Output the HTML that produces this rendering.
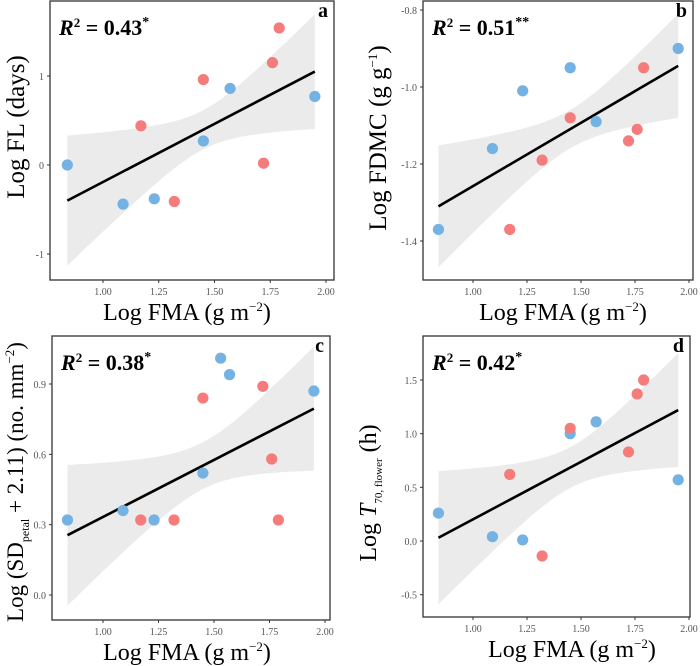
<!DOCTYPE html>
<html><head><meta charset="utf-8">
<style>
html,body{margin:0;padding:0;background:#fff;}
svg{display:block;font-family:"Liberation Serif",serif;}
</style></head>
<body>
<svg id="fig" width="700" height="666" viewBox="0 0 700 666" xmlns="http://www.w3.org/2000/svg"></svg>
<script>
// shared x data
const xTicks = [1.00, 1.25, 1.50, 1.75, 2.00];
const xTickLabels = ["1.00", "1.25", "1.50", "1.75", "2.00"];
const blueX = [0.84, 1.09, 1.23, 1.45, 1.57, 1.95];
const redX = [1.17, 1.32, 1.45, 1.72, 1.76, 1.79];
const blueXc = [0.84, 1.09, 1.23, 1.45, 1.53, 1.57, 1.95];
// panel a
const aBlueY = [0.00, -0.44, -0.38, 0.27, 0.86, 0.77];
const aRedY = [0.44, -0.41, 0.96, 0.02, 1.15, 1.54];
const aFit = [-0.40, 1.05];
const aCI = [0.73, 0.22, 0.645];
const aYTicks = [-1, 0, 1];
const aYTickLabels = ["-1", "0", "1"];
// panel b
const bBlueY = [-1.37, -1.16, -1.01, -0.95, -1.09, -0.90];
const bRedY = [-1.37, -1.19, -1.08, -1.14, -1.11, -0.95];
const bFit = [-1.31, -0.945];
const bCI = [0.158, 0.05, 0.135];
const bYTicks = [-1.4, -1.2, -1.0, -0.8];
const bYTickLabels = ["-1.4", "-1.2", "-1.0", "-0.8"];
// panel c
const cBlueY = [0.32, 0.36, 0.32, 0.52, 1.01, 0.94, 0.87];
const cRedY = [0.32, 0.32, 0.84, 0.89, 0.58, 0.32];
const cFit = [0.255, 0.795];
const cCI = [0.30, 0.10, 0.265];
const cYTicks = [0.0, 0.3, 0.6, 0.9];
const cYTickLabels = ["0.0", "0.3", "0.6", "0.9"];
// panel d
const dBlueY = [0.26, 0.04, 0.01, 1.00, 1.11, 0.57];
const dRedY = [0.62, -0.14, 1.05, 0.83, 1.37, 1.50];
const dFit = [0.03, 1.22];
const dCI = [0.62, 0.19, 0.53];
const dYTicks = [-0.5, 0.0, 0.5, 1.0, 1.5];
const dYTickLabels = ["-0.5", "0.0", "0.5", "1.0", "1.5"];

const NS = "http://www.w3.org/2000/svg";
const svg = document.getElementById("fig");
function mk(tag, attrs, parent) {
  const e = document.createElementNS(NS, tag);
  for (const k in attrs) e.setAttribute(k, attrs[k]);
  (parent || svg).appendChild(e);
  return e;
}
const XMIN = 0.84, XMAX = 1.95, XMID = 1.45;

function panel(p) {
  const g = mk("g", {});
  
  
  const sx = v => p.x1 + (v - 1) * (p.x2 - p.x1);
  const sy = v => p.y0 + (v - p.v0) * (p.y1 - p.y0) / (p.v1 - p.v0);
  const fit = v => p.fit[0] + (v - XMIN) * (p.fit[1] - p.fit[0]) / (XMAX - XMIN);
  const hw = v => {
    const h0 = p.ci[1];
    const kL = (p.ci[0] ** 2 - h0 ** 2) / ((XMIN - XMID) ** 2);
    const kR = (p.ci[2] ** 2 - h0 ** 2) / ((XMAX - XMID) ** 2);
    const k = v < XMID ? kL : kR;
    return Math.sqrt(h0 * h0 + k * (v - XMID) ** 2);
  };
  let up = [], lo = [];
  for (let i = 0; i <= 60; i++) {
    const v = XMIN + (XMAX - XMIN) * i / 60;
    up.push(sx(v).toFixed(1) + "," + sy(fit(v) + hw(v)).toFixed(1));
    lo.unshift(sx(v).toFixed(1) + "," + sy(fit(v) - hw(v)).toFixed(1));
  }
  const band = mk("polygon", {points: up.concat(lo).join(" "), fill: "#ebebeb"}, g);
  
  
  const ln = mk("line", {x1: sx(XMIN), y1: sy(fit(XMIN)), x2: sx(XMAX), y2: sy(fit(XMAX)), stroke: "#000", "stroke-width": 2.6}, g);
  
  
  p.bx.forEach((v, i) => {
    const c = mk("circle", {cx: sx(v), cy: sy(p.by[i]), r: 5.6, fill: "#73B2E3"}, g);
    
    
  });
  redX.forEach((v, i) => {
    const c = mk("circle", {cx: sx(v), cy: sy(p.ry[i]), r: 5.6, fill: "#F57C7A"}, g);
    
    
  });
  const fr = mk("rect", {x: p.L, y: p.T, width: p.R - p.L, height: p.B - p.T, fill: "none", stroke: "#333", "stroke-width": 1.3}, g);
  
  
  xTicks.forEach((v, i) => {
    mk("line", {x1: sx(v), x2: sx(v), y1: p.B, y2: p.B + 3, stroke: "#333"}, g);
    const t = mk("text", {x: sx(v), y: p.B + 15, "text-anchor": "middle", "font-size": 10, fill: "#555"}, g);
    t.textContent = xTickLabels[i];
    
    
  });
  p.yt.forEach((v, i) => {
    mk("line", {x1: p.L - 3, x2: p.L, y1: sy(v), y2: sy(v), stroke: "#333"}, g);
    const t = mk("text", {x: p.L - 6, y: sy(v) + 4, "text-anchor": "end", "font-size": 10, fill: "#555"}, g);
    t.textContent = p.yl[i];
    
    
  });
  const xt = mk("text", {x: p.xtx, y: p.B + 40, "text-anchor": "middle", "font-size": 24}, g);
  xt.innerHTML = 'Log FMA (g m<tspan dy="-9" font-size="13">−2</tspan><tspan dy="9">)</tspan>';
  
  
  const yt = mk("text", {transform: `translate(${p.ytx},${p.yty}) rotate(-90)`, "text-anchor": "middle", "font-size": p.yfs || 25}, g);
  yt.innerHTML = p.ytitle;
  
  
  const r = mk("text", {x: p.L + 9, y: p.T + 34, "font-size": 22, "font-weight": "bold"}, g);
  r.innerHTML = '<tspan font-style="italic">R</tspan><tspan dy="-8" font-size="13">2</tspan><tspan dy="8"> = ' + p.r2 + '</tspan><tspan dy="-9" font-size="14">' + p.star + '</tspan>';
  
  
  const lab = mk("text", {x: p.R - 6, y: p.T + 16, "text-anchor": "end", "font-size": 20, "font-weight": "bold"}, g);
  lab.textContent = p.id;
  
  
}

panel({id: "a", L: 50, R: 334, T: 1, B: 280, x1: 103, x2: 326, v0: 0, y0: 165, v1: 1, y1: 76,
  bx: blueX, by: aBlueY, ry: aRedY, fit: aFit, ci: aCI, yt: aYTicks, yl: aYTickLabels,
  xtx: 187, ytx: 24, yty: 127, r2: "0.43", star: "*", ytitle: "Log FL (days)"});
panel({id: "b", L: 423, R: 693, T: 1, B: 280, x1: 473, x2: 689, v0: -1.0, y0: 87, v1: -1.4, y1: 241,
  bx: blueX, by: bBlueY, ry: bRedY, fit: bFit, ci: bCI, yt: bYTicks, yl: bYTickLabels,
  xtx: 563, ytx: 386, yty: 138, r2: "0.51", star: "**",
  ytitle: 'Log FDMC (g g<tspan dy="-9" font-size="13">−1</tspan><tspan dy="9">)</tspan>'});
panel({id: "c", L: 52, R: 330, T: 336, B: 620, x1: 103, x2: 325, v0: 0, y0: 595, v1: 0.9, y1: 384,
  bx: blueXc, by: cBlueY, ry: cRedY, fit: cFit, ci: cCI, yt: cYTicks, yl: cYTickLabels,
  xtx: 187, ytx: 23, yty: 482, r2: "0.38", star: "*", yfs: 23,
  ytitle: 'Log (SD<tspan dy="6" font-size="12">petal</tspan><tspan dy="-6"> + 2.11) (no. mm</tspan><tspan dy="-9" font-size="13">−2</tspan><tspan dy="9">)</tspan>'});
panel({id: "d", L: 423, R: 690, T: 336, B: 617, x1: 473, x2: 689, v0: 0, y0: 541, v1: 1.5, y1: 380,
  bx: blueX, by: dBlueY, ry: dRedY, fit: dFit, ci: dCI, yt: dYTicks, yl: dYTickLabels,
  xtx: 572, ytx: 376, yty: 493, r2: "0.42", star: "*", yfs: 24,
  ytitle: 'Log <tspan font-style="italic">T</tspan><tspan dy="6" font-size="11">70, flower</tspan><tspan dy="-6"> (h)</tspan>'});
</script>
</body></html>
